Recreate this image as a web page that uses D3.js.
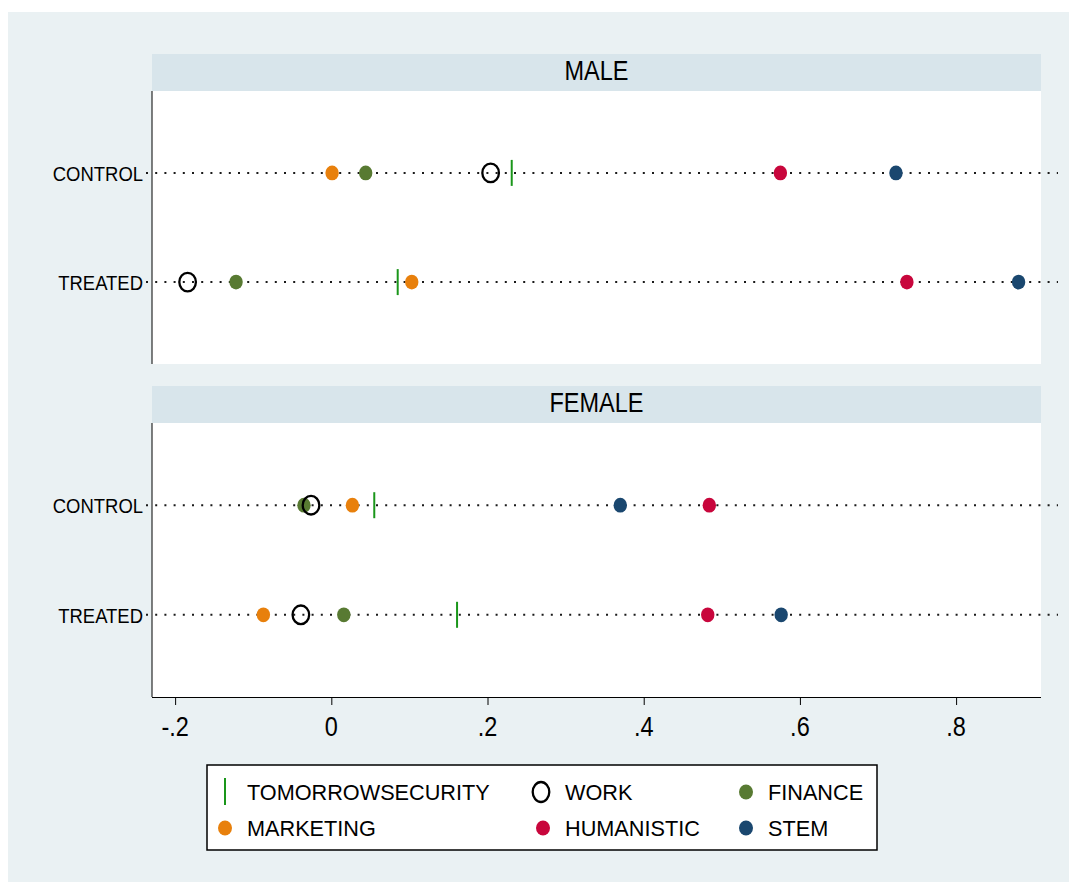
<!DOCTYPE html>
<html>
<head>
<meta charset="utf-8">
<script src="https://cdn.jsdelivr.net/npm/d3@7"></script>
<style>
  html, body { margin: 0; padding: 0; background: #ffffff; }
  svg { display: block; }
  text { font-family: "Liberation Sans", Arial, sans-serif; fill: #000; }
</style>
</head>
<body>
<svg id="chart" width="1069" height="886"></svg>
<script>
// Panels (by sex) and rows (by group)
const panels = ["MALE", "FEMALE"];
const rows = ["CONTROL", "TREATED"];

// Series names in legend order
const seriesNames = ["TOMORROWSECURITY", "WORK", "FINANCE", "MARKETING", "HUMANISTIC", "STEM"];

// Values per series: [MALE CONTROL, MALE TREATED, FEMALE CONTROL, FEMALE TREATED]
const tomorrowSecurity = [0.231, 0.085, 0.055, 0.161];
const work             = [0.204, -0.184, -0.026, -0.039];
const finance          = [0.044, -0.122, -0.035, 0.016];
const marketing        = [0.001, 0.103, 0.027, -0.087];
const humanistic       = [0.575, 0.737, 0.484, 0.482];
const stem             = [0.723, 0.880, 0.370, 0.576];

// Axis ticks
const xTicks = [-0.2, 0, 0.2, 0.4, 0.6, 0.8];
const xTickLabels = ["-.2", "0", ".2", ".4", ".6", ".8"];

const seriesValues = {
  TOMORROWSECURITY: tomorrowSecurity,
  WORK: work,
  FINANCE: finance,
  MARKETING: marketing,
  HUMANISTIC: humanistic,
  STEM: stem
};

const colors = {
  TOMORROWSECURITY: "#1a961a",
  WORK: "#000000",
  FINANCE: "#587a32",
  MARKETING: "#e8800c",
  HUMANISTIC: "#c8063c",
  STEM: "#1a476f"
};

const svg = d3.select("#chart");

// Outer background
svg.append("rect").attr("x", 8).attr("y", 12).attr("width", 1061).attr("height", 870)
  .attr("fill", "#eaf1f3");

const plotLeft = 152, plotRight = 1041;
const x = d3.scaleLinear().domain([-0.2296, 0.9087]).range([plotLeft, plotRight]);

const panelLayout = [
  { name: "MALE",   headTop: 54,  top: 91,  bottom: 364 },
  { name: "FEMALE", headTop: 386, top: 423, bottom: 697 }
];

function condensedText(g, str, tx, ty, size, sx, anchor) {
  return g.append("text")
    .attr("transform", `translate(${tx},${ty}) scale(${sx},1)`)
    .attr("text-anchor", anchor)
    .attr("font-size", size)
    .text(str);
}

// Draw order: line marker first, filled dots, hollow circle on top
const drawOrder = ["TOMORROWSECURITY", "FINANCE", "MARKETING", "HUMANISTIC", "STEM", "WORK"];

panelLayout.forEach((p, pi) => {
  const g = svg.append("g");
  // header band
  g.append("rect").attr("x", plotLeft).attr("y", p.headTop)
    .attr("width", plotRight - plotLeft).attr("height", p.top - p.headTop)
    .attr("fill", "#d8e5eb");
  condensedText(g, p.name, (plotLeft + plotRight) / 2, p.headTop + 26, 28, 0.84, "middle");

  // plot region
  g.append("rect").attr("x", plotLeft).attr("y", p.top)
    .attr("width", plotRight - plotLeft).attr("height", p.bottom - p.top)
    .attr("fill", "#ffffff");

  const y = d3.scalePoint().domain(rows).range([p.top, p.bottom]).padding(0.75);

  // left axis line
  g.append("line").attr("x1", plotLeft).attr("x2", plotLeft)
    .attr("y1", p.top).attr("y2", p.bottom)
    .attr("stroke", "#000").attr("stroke-width", 1);

  rows.forEach((r, ri) => {
    const yy = y(r);
    // row label
    condensedText(g, r, 143, yy + 8, 20.5, 0.9, "end");
    // dotted guide line
    g.append("line").attr("x1", 146).attr("x2", 1058)
      .attr("y1", yy).attr("y2", yy)
      .attr("stroke", "#1a1a1a").attr("stroke-width", 2)
      .attr("stroke-dasharray", "2 7.2");

    const idx = pi * 2 + ri;
    drawOrder.forEach(s => {
      const v = seriesValues[s][idx];
      const cx = x(v);
      if (s === "TOMORROWSECURITY") {
        g.append("line").attr("x1", cx).attr("x2", cx)
          .attr("y1", yy - 13).attr("y2", yy + 13)
          .attr("stroke", colors[s]).attr("stroke-width", 2);
      } else if (s === "WORK") {
        g.append("ellipse").attr("cx", cx).attr("cy", yy)
          .attr("rx", 8.3).attr("ry", 9.3)
          .attr("fill", "none").attr("stroke", "#000").attr("stroke-width", 2.3);
      } else {
        g.append("ellipse").attr("cx", cx).attr("cy", yy)
          .attr("rx", 6.7).attr("ry", 7.4)
          .attr("fill", colors[s]);
      }
    });
  });
});

// Bottom x axis
const axisY = 697;
const axisG = svg.append("g").attr("transform", `translate(0,${axisY})`);
axisG.call(d3.axisBottom(x).tickValues(xTicks).tickSize(8).tickFormat(() => ""));
axisG.select(".domain").attr("stroke", "#000").attr("d", `M${plotLeft},0.5H${plotRight}`);
axisG.selectAll(".tick line").attr("stroke", "#000");
xTicks.forEach((t, i) => {
  condensedText(svg, xTickLabels[i], x(t), axisY + 39, 28, 0.84, "middle");
});

// Legend
const lg = svg.append("g");
lg.append("rect").attr("x", 207).attr("y", 765).attr("width", 670).attr("height", 85)
  .attr("fill", "#ffffff").attr("stroke", "#000").attr("stroke-width", 1.5);

const legendCols = [225, 543, 746];
const legendRows = [792, 828];
seriesNames.forEach((s, i) => {
  const cx = legendCols[i % 3];
  const cy = legendRows[Math.floor(i / 3)];
  if (s === "TOMORROWSECURITY") {
    lg.append("line").attr("x1", cx).attr("x2", cx).attr("y1", cy - 14).attr("y2", cy + 13)
      .attr("stroke", colors[s]).attr("stroke-width", 2);
  } else if (s === "WORK") {
    lg.append("ellipse").attr("cx", cx - 2).attr("cy", cy).attr("rx", 8.3).attr("ry", 10)
      .attr("fill", "none").attr("stroke", "#000").attr("stroke-width", 2.3);
  } else {
    lg.append("ellipse").attr("cx", cx).attr("cy", cy).attr("rx", 7).attr("ry", 7.6)
      .attr("fill", colors[s]);
  }
  condensedText(lg, s, cx + 22, cy + 8, 22, 0.985, "start");
});
</script>
</body>
</html>
